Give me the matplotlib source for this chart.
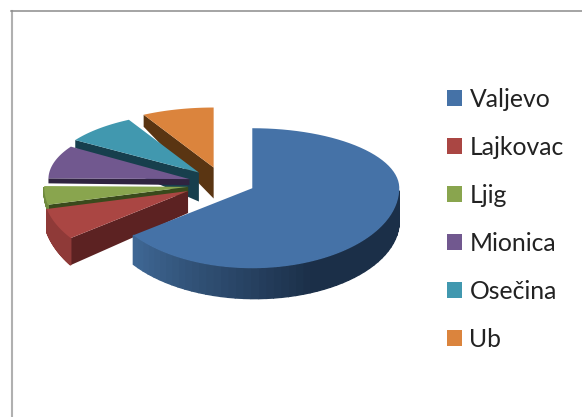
import numpy as np
import matplotlib
matplotlib.use('Agg')
import matplotlib.pyplot as plt
from matplotlib.patches import Polygon, Patch

# Share of each municipality (percent)
names = ['Valjevo', 'Lajkovac', 'Ljig', 'Mionica', 'Osečina', 'Ub']
shares = [65.0, 6.4, 3.8, 8.9, 8.0, 7.9]

top_colors = ['#4572A7', '#AA4643', '#89A54E', '#71588F', '#4198AF', '#DB843D']
wall_colors = ['#2a4566', '#5c2222', '#3a4a1c', '#2f2340', '#173f4d', '#5a3512']
rim_colors = ['#3d6593', '#8f3a38', '#6f8a3e', '#5a4672', '#347a8c', '#b06a30']

# fake 3D look: pixel sizes of the tilted pie
center = (222, 184)
slice_rx = [147, 145, 144, 141, 147, 147]
ry_back, ry_front = 60, 80
explode_x, explode_y = 34, 17
apex_nudge_x = [0, -3, 0, 0, 0, 0]
apex_nudge_y = [-3.5, 0, 1, 0, 1, 0]
apex_depth = [30, 22, 8, 6, 29, 31]
rim_start = [35, 27, 6, 5, 8, 12]
rim_end = [29, 23, 5, 5, 8, 12]


def rim_point(apex, t, rx):
    ry = ry_back if np.cos(t) > 0 else ry_front
    return apex[0] + rx * np.sin(t), apex[1] - ry * np.cos(t)


def blue_shade(t):
    # wall of the big slice stays dark on the right, lightens towards its left end
    a = np.clip((np.degrees(t) - 155) / 75, 0, 1)
    c0 = np.array([0x1b, 0x2f, 0x48])
    c1 = np.array([0x3e, 0x66, 0x93])
    return tuple((c0 + (c1 - c0) * a) / 255)


fig = plt.figure(figsize=(5.82, 4.17), dpi=100)
ax = fig.add_axes([0, 0, 1, 1])
ax.set_xlim(0, 582)
ax.set_ylim(417, 0)
ax.axis('off')

# chart frame, only left and top show
ax.plot([11.8, 11.8], [417, 10.5], color='#b0b0b0', lw=1.5)
ax.plot([11, 582], [10.5, 10.5], color='#8c8c8c', lw=1.1)

edges = np.radians(np.cumsum([0] + shares) * 3.6)

# back slices first, Valjevo goes on top
for i in [5, 4, 3, 2, 1, 0]:
    t0, t1 = edges[i], edges[i + 1]
    mid = (t0 + t1) / 2
    rx = slice_rx[i]
    apex = (center[0] + explode_x * np.sin(mid) + apex_nudge_x[i],
            center[1] - explode_y * np.cos(mid) + apex_nudge_y[i])
    ts = np.linspace(t0, t1, 80)
    arc = [rim_point(apex, t, rx) for t in ts]

    # radial wall on the leading edge
    if i > 0:
        p = rim_point(apex, t0, rx)
        ax.add_patch(Polygon([apex, p, (p[0], p[1] + rim_start[i]),
                              (apex[0], apex[1] + apex_depth[i])],
                             color=wall_colors[i], lw=0))

    # outer wall, only the part that faces the viewer
    vis = ts[(ts > np.pi / 2) & (ts < 3 * np.pi / 2)]
    for a, b in zip(vis[:-1], vis[1:]):
        frac = (a - t0) / (t1 - t0)
        d = rim_start[i] + (rim_end[i] - rim_start[i]) * frac
        pa, pb = rim_point(apex, a, rx), rim_point(apex, b, rx)
        col = blue_shade(a) if i == 0 else rim_colors[i]
        ax.add_patch(Polygon([pa, pb, (pb[0], pb[1] + d), (pa[0], pa[1] + d)],
                             facecolor=col, edgecolor=col, lw=1.0))

    ax.add_patch(Polygon([apex] + arc, color=top_colors[i], lw=0))

handles = [Patch(facecolor=c, edgecolor='none') for c in top_colors]
ax.legend(handles, names, loc='upper left', bbox_to_anchor=(447 / 582, 1 - 88 / 417),
          frameon=False, prop={'family': 'Lato', 'size': 17.8}, labelcolor='#222222',
          handlelength=0.62, handleheight=0.62, handletextpad=0.29,
          labelspacing=1.01, borderpad=0, borderaxespad=0)

fig.savefig('out.png', dpi=100)
